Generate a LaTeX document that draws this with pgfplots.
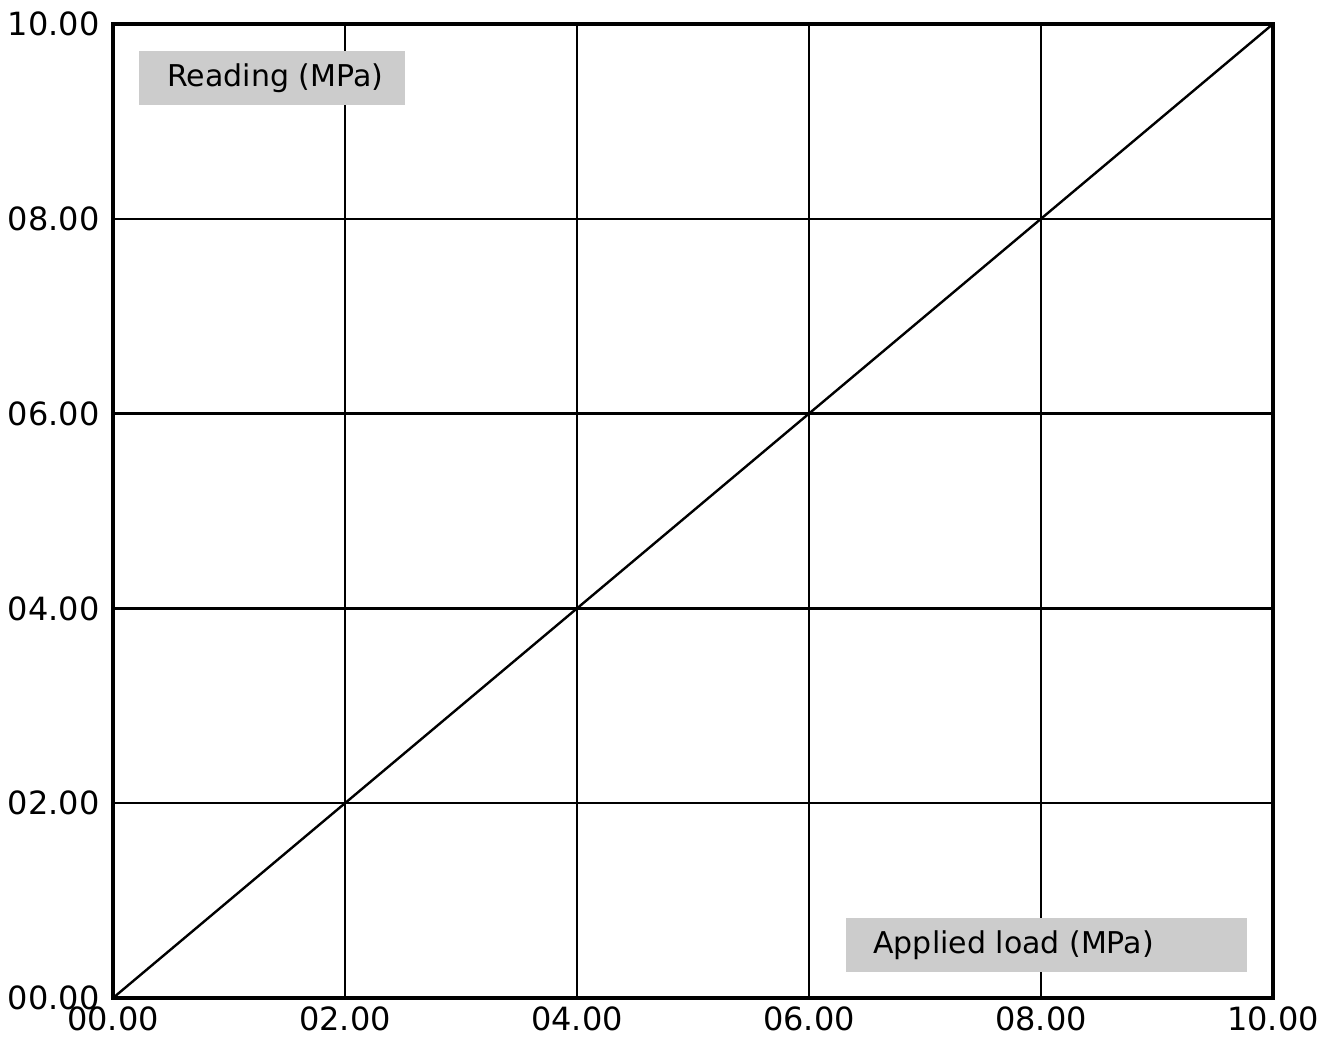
\documentclass[border=0pt]{standalone}
\usepackage{pgfplots}
\pgfplotsset{compat=1.18}
\usepackage{fontspec}
\setmainfont{DejaVu Sans}
\definecolor{boxgray}{HTML}{CCCCCC}
\begin{document}
\begin{tikzpicture}
\useasboundingbox (-56.5pt,-19.5pt) rectangle (608.5pt,499pt);
\begin{axis}[
  at={(0pt,0pt)}, anchor=south west,
  scale only axis,
  width=580pt, height=487pt,
  xmin=0, xmax=10, ymin=0, ymax=10,
  xtick={0,2,4,6,8,10}, ytick={0,2,4,6,8,10},
  xticklabels={00.00,02.00,04.00,06.00,08.00,10.00},
  yticklabels={00.00,02.00,04.00,06.00,08.00,10.00},
  major tick length=0pt,
  grid=major,
  grid style={black, line width=1.2pt},
  axis line style={black, line width=1.6pt},
  tick label style={font=\fontsize{16}{19}\selectfont, black},
  yticklabel style={inner sep=0pt, xshift=-6.5pt},
  xticklabel style={inner sep=0pt, yshift=-4pt},
]
\addplot[black, line width=1.2pt, mark=none] coordinates {(0,0) (10,10)};
\end{axis}
\fill[boxgray] (13pt,446.5pt) rectangle (146pt,473.5pt);
\node[anchor=west, inner sep=0pt, font=\fontsize{15}{18}\selectfont] at (27pt,460pt) {Reading (MPa)};
\fill[boxgray] (366.5pt,13pt) rectangle (567pt,40pt);
\node[anchor=west, inner sep=0pt, font=\fontsize{15}{18}\selectfont] at (380pt,26.5pt) {Applied load (MPa)};
\end{tikzpicture}
\end{document}
